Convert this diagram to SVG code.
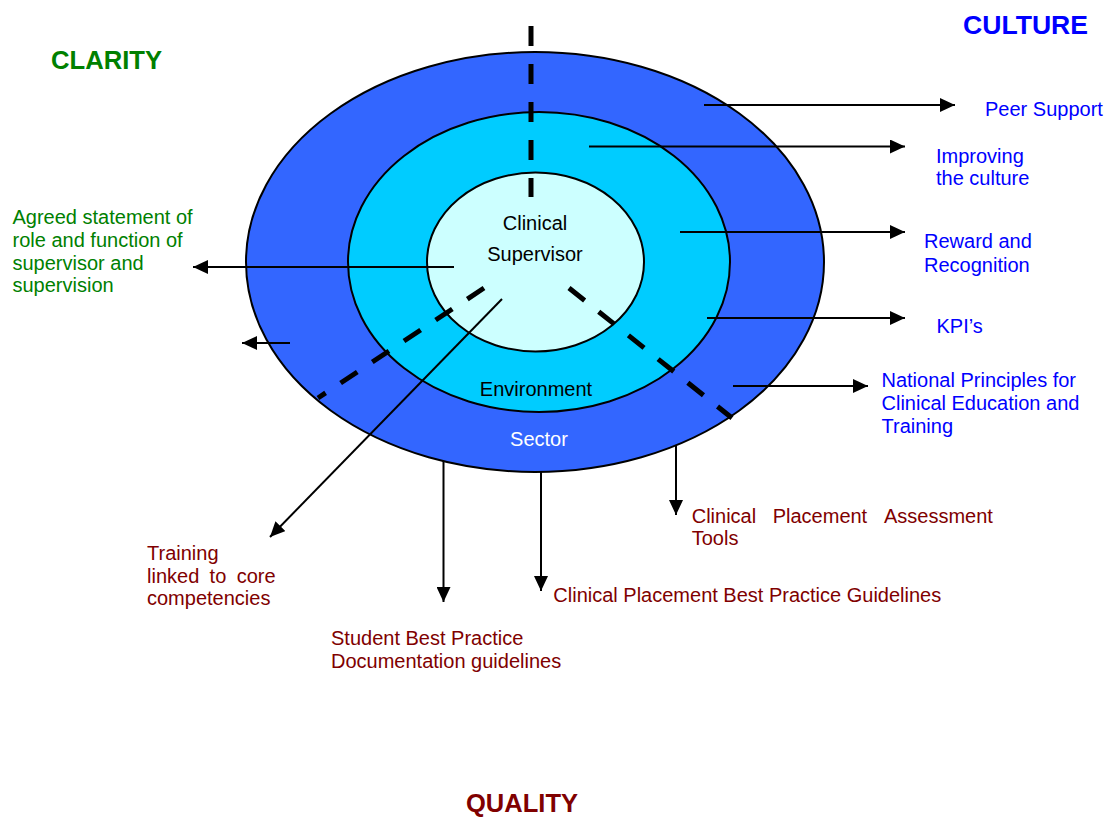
<svg xmlns="http://www.w3.org/2000/svg" width="1109" height="817" viewBox="0 0 1109 817">
  <style>
    text { font-family: "Liberation Sans", Arial, sans-serif; font-size: 20px; }
    .title { font-size: 25.5px; font-weight: bold; }
    .green { fill: #008000; }
    .blue { fill: #0000FF; }
    .red { fill: #800000; }
    .ring { stroke: #000; stroke-width: 2; }
    .conn { stroke: #000; stroke-width: 2; fill: none; marker-end: url(#ah); }
    .dash { stroke: #000; stroke-width: 5; stroke-dasharray: 20 18; fill: none; }
    .center { text-anchor: middle; }
  </style>
  <defs>
    <marker id="ah" markerUnits="userSpaceOnUse" markerWidth="16" markerHeight="14" refX="15" refY="7" orient="auto">
      <path d="M0,0 L15,7 L0,14 Z" fill="#000"/>
    </marker>
  </defs>

  <g id="rings">
    <ellipse id="sector" class="ring" cx="535" cy="262" rx="289" ry="210" fill="#3366FF"/>
    <ellipse id="environment" class="ring" cx="539" cy="262" rx="191" ry="150" fill="#00CCFF"/>
    <ellipse id="supervisor" class="ring" cx="535.5" cy="262" rx="108.5" ry="89.5" fill="#CCFFFF"/>
    <text x="535" y="230" class="center">Clinical</text>
    <text x="535" y="261" class="center">Supervisor</text>
    <text x="536" y="396" class="center">Environment</text>
    <text x="539" y="446" class="center" fill="#fff">Sector</text>
  </g>

  <g id="dividers">
    <line class="dash" x1="531" y1="26" x2="531" y2="197"/>
    <line class="dash" x1="484" y1="288" x2="318" y2="398"/>
    <line class="dash" x1="569" y1="288" x2="732" y2="418"/>
  </g>

  <g id="connectors">
    <line class="conn" x1="704" y1="105" x2="955" y2="105"/>
    <line class="conn" x1="589" y1="146.5" x2="905" y2="146.5"/>
    <line class="conn" x1="680" y1="232" x2="905" y2="232"/>
    <line class="conn" x1="707" y1="318" x2="905" y2="318"/>
    <line class="conn" x1="733" y1="386" x2="868" y2="386"/>
    <line class="conn" x1="454" y1="267" x2="193" y2="267"/>
    <line class="conn" x1="290" y1="343" x2="242" y2="343"/>
    <line class="conn" x1="502" y1="299" x2="270" y2="537"/>
    <line class="conn" x1="443.5" y1="461" x2="443.5" y2="602"/>
    <line class="conn" x1="541" y1="472" x2="541" y2="591"/>
    <line class="conn" x1="676" y1="445" x2="676" y2="515"/>
  </g>

  <g id="clarity">
    <text x="51" y="69" class="title green" textLength="111" lengthAdjust="spacingAndGlyphs">CLARITY</text>
  </g>
  <g id="culture">
    <text x="963" y="34" class="title blue" textLength="125" lengthAdjust="spacingAndGlyphs">CULTURE</text>
  </g>
  <g id="quality">
    <text x="466" y="812" class="title red" textLength="112" lengthAdjust="spacingAndGlyphs">QUALITY</text>
  </g>

  <g id="peer-support">
    <text x="985" y="116" class="blue">Peer Support</text>
  </g>
  <g id="improving-culture">
    <text x="936" y="162.5" class="blue">Improving</text>
    <text x="936" y="185" class="blue">the culture</text>
  </g>
  <g id="reward">
    <text x="924" y="248" class="blue">Reward and</text>
    <text x="924" y="271.5" class="blue">Recognition</text>
  </g>
  <g id="kpis">
    <text x="936.5" y="332.5" class="blue">KPI’s</text>
  </g>
  <g id="national-principles">
    <text x="881.5" y="386.5" class="blue">National Principles for</text>
    <text x="881.5" y="410" class="blue">Clinical Education and</text>
    <text x="881.5" y="432.5" class="blue">Training</text>
  </g>

  <g id="agreed-statement">
    <text x="12.5" y="224" class="green">Agreed statement of</text>
    <text x="12.5" y="246.5" class="green">role and function of</text>
    <text x="12.5" y="270" class="green">supervisor and</text>
    <text x="12.5" y="291.5" class="green">supervision</text>
  </g>

  <g id="training">
    <text x="147" y="560" class="red">Training</text>
    <text y="582.5" class="red"><tspan x="147">linked</tspan><tspan x="209.6">to</tspan><tspan x="236.7">core</tspan></text>
    <text x="147" y="605" class="red">competencies</text>
  </g>
  <g id="student-best-practice">
    <text x="331" y="645" class="red">Student Best Practice</text>
    <text x="331" y="668" class="red">Documentation guidelines</text>
  </g>
  <g id="placement-guidelines">
    <text x="553.3" y="602.3" class="red">Clinical Placement Best Practice Guidelines</text>
  </g>
  <g id="assessment-tools">
    <text y="523.3" class="red"><tspan x="691.7">Clinical</tspan><tspan x="772.7">Placement</tspan><tspan x="884">Assessment</tspan></text>
    <text x="691.7" y="545" class="red">Tools</text>
  </g>
</svg>
